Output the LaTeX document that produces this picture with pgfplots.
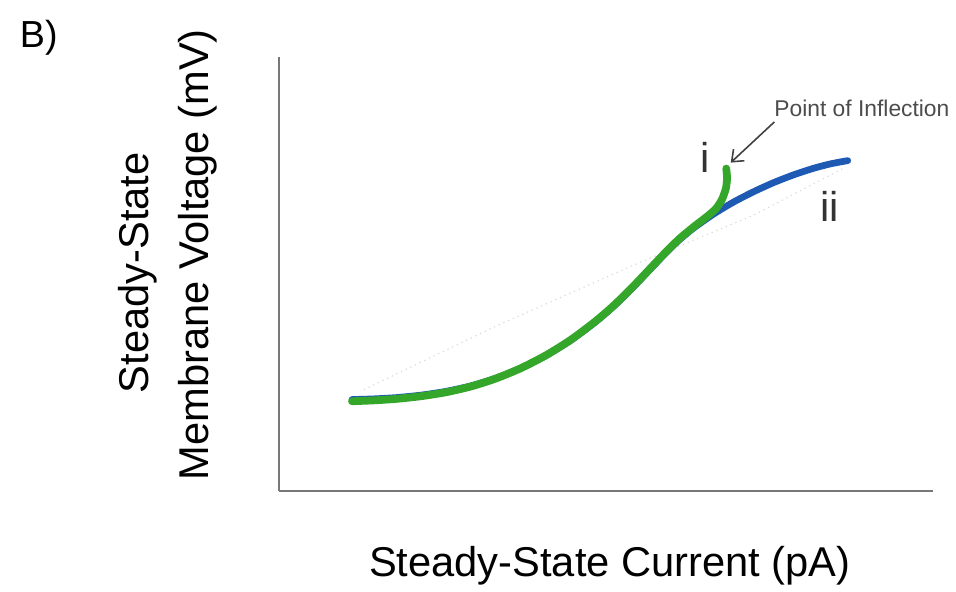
\documentclass[border=0pt]{standalone}
\usepackage{pgfplots}
\pgfplotsset{compat=1.18}
\usepackage{fontspec}
\setmainfont{Liberation Sans}
\usetikzlibrary{arrows.meta}
\definecolor{cblue}{RGB}{30,90,180}
\definecolor{cgreen}{RGB}{52,166,42}
\definecolor{axgray}{RGB}{120,120,120}
\begin{document}
\begin{tikzpicture}[x=0.5pt,y=0.5pt]
\begin{axis}[
  scale only axis,
  width=330pt, height=219pt,
  xmin=281, xmax=941, ymin=102, ymax=540,
  axis x line=bottom, axis y line=left,
  axis line style={-, axgray, line width=1.1pt},
  xtick=\empty, ytick=\empty,
  clip=false,
]
\path (axis cs:0,0) rectangle (axis cs:956,597);
% faint dotted reference line
\addplot[gray!30, dotted, line width=0.6pt] coordinates {(367,204) (500,268) (640,330) (760,380) (850,427)};
% curve ii (blue)
\addplot[cblue, line width=3.4pt, smooth, tension=0.4, line cap=round] coordinates {
(355,194.0) (377.5,194.7) (400,196.0) (425,198.5) (450,202.3) (475,207.8) (500,215.5) (525,225.5) (550,238.0) (575,253.3) (600,271.8) (620,289.0) (640,308.8) (655,324.5) (670,340.3) (685,354.9) (700,367.3) (720,381.3) (740,393.3) (760,403.6) (780,412.7) (800,420.5) (820,427.1) (837.5,431.7) (855,435.0)};
% curve i (green)
\addplot[cgreen, line width=3.9pt, smooth, tension=0.4, line cap=round] coordinates {
(355,192.3) (377.5,193.2) (400,194.7) (425,197.4) (450,201.4) (475,207.2) (500,215.2) (525,225.5) (550,238.3) (575,253.8) (600,272.5) (620,289.8) (640,309.6) (655,325.4) (670,341.2) (685,356.0) (700,368.5) (713,378.5) (722,386.5) (728,395.5) (732,406.5) (733.3,417) (732.5,427)};
\node[anchor=base west, font=\fontsize{19}{22}\selectfont] at (axis cs:13,549) {B)};
\node[anchor=base, font=\fontsize{21}{25}\selectfont] at (axis cs:615,16) {Steady-State Current (pA)};
\node[anchor=base, rotate=90, font=\fontsize{21}{25}\selectfont] at (axis cs:150,322) {Steady-State};
\node[anchor=base, rotate=90, font=\fontsize{21}{25}\selectfont] at (axis cs:210,340) {Membrane Voltage (mV)};
\node[anchor=base, font=\fontsize{21}{25}\selectfont, text=black!80] at (axis cs:711,423) {i};
\node[anchor=base, font=\fontsize{21}{25}\selectfont, text=black!80] at (axis cs:837,374) {ii};
\node[anchor=base west, font=\fontsize{11.5}{14}\selectfont, text=black!70] at (axis cs:774,479) {Point of Inflection};
\draw[black!75, line width=0.8pt, -{Straight Barb[length=5pt,width=8pt]}] (axis cs:781,474) -- (axis cs:737,433);
\end{axis}
\end{tikzpicture}
\end{document}
